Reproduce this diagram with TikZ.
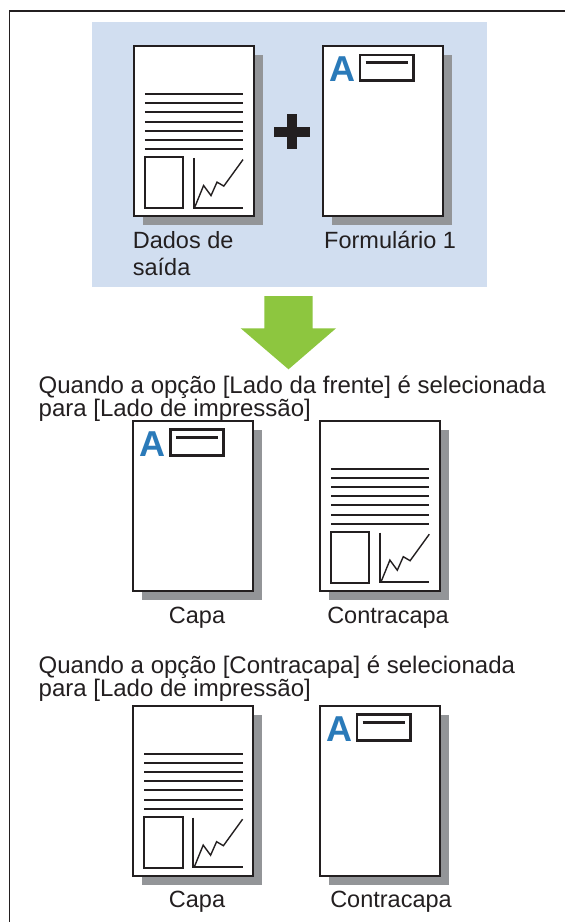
\documentclass[tikz,border=0pt]{standalone}
\usepackage{fontspec}
\setmainfont{Liberation Sans}
\definecolor{inkc}{HTML}{231F20}
\definecolor{shadowc}{HTML}{939598}
\definecolor{bluebg}{HTML}{D1DEF0}
\definecolor{letterc}{HTML}{2A7AB9}
\definecolor{arrowc}{HTML}{8DC63F}
\tikzset{
  pageshadow/.style={fill=shadowc, draw=none},
  pagebody/.style={fill=white, draw=inkc, line width=2.2pt},
  textline/.style={draw=inkc, line width=2pt},
  boxline/.style={draw=inkc, line width=2pt},
  chartline/.style={draw=inkc, line width=1.4pt, line join=miter},
  formbox/.style={draw=inkc, line width=2.8pt},
  bigletter/.style={text=letterc, font=\fontsize{36}{36}\selectfont\bfseries, inner sep=0pt, anchor=base west},
  lbl/.style={font=\fontsize{23.5}{23.5}\selectfont, inner sep=0pt, text=inkc},
  caption/.style={font=\fontsize{24}{24}\selectfont, inner sep=0pt, anchor=base west, text=inkc},
}
\newcommand\mypage[2]{%
  \fill[pageshadow] (#1+9,#2+9) rectangle (#1+129,#2+179);
  \draw[pagebody] (#1,#2) rectangle (#1+120,#2+170);}
\newcommand\datapage[2]{%
  \mypage{#1}{#2}
  \begin{scope}[shift={(#1,#2)}]
    \foreach \k in {0,...,6}{\draw[textline] (11.1,48.1+9.17*\k) -- (109.3,48.1+9.17*\k);}
    \draw[boxline] (11.1,110.9) rectangle (49.3,162.1);
    \draw[boxline] (59.8,111.9) -- (59.8,161.7) -- (109.3,161.7);
    \draw[chartline] (61.3,160.6) -- (69.9,139.5) -- (77.3,149.6) -- (83.3,136.1) -- (90.1,140.1) -- (109.3,113.6);
  \end{scope}}
\newcommand\formpage[3]{%
  \mypage{#1}{#2}
  \begin{scope}[shift={(#1,#2)}]
    \node[bigletter] (#3) at (6,35.5) {A};
    \draw[formbox] (37,9) rectangle (90.5,34.5);
    \draw[formbox] (42.6,16.7) -- (84.6,16.7);
  \end{scope}}
\begin{document}
\begin{tikzpicture}[x=1pt,y=-1pt]
\useasboundingbox (0,0) rectangle (565,922);
\fill[white] (0,0) rectangle (565,922);
% frame
\draw[inkc, line width=1.2pt] (9.5,922) -- (9.5,11) -- (565,11);
% blue panel
\fill[bluebg] (92,22) rectangle (487,287);
\datapage{133.7}{46}
\formpage{323}{46}{A1}
% plus sign
\fill[inkc] (274,127) rectangle (310,137);
\fill[inkc] (287,114) rectangle (297,149);
\node[lbl, anchor=base west] (dados) at (132.7,248.6) {Dados de};
\node[lbl, anchor=base west] (saida) at (132.7,275.5) {saída};
\node[lbl, anchor=base west] (form1) at (324,248.6) {Formulário 1};
% arrow
\fill[arrowc] (264.3,296) -- (312.7,296) -- (312.7,328.3) -- (336,328.3) -- (288.5,369.3) -- (240.7,328.3) -- (264.3,328.3) -- cycle;
% section 1
\node[caption] (c1a) at (38.5,393) {Quando a opção [Lado da frente] é selecionada};
\node[caption] (c1b) at (38.5,416.5) {para [Lado de impressão]};
\formpage{133.3}{420.6}{A2}
\datapage{320}{420.6}
\node[lbl, anchor=base] (capa1) at (197,623.6) {Capa};
\node[lbl, anchor=base] (contra1) at (388,623.6) {Contracapa};
% section 2
\node[caption] (c2a) at (38.5,673) {Quando a opção [Contracapa] é selecionada};
\node[caption] (c2b) at (38.5,696.5) {para [Lado de impressão]};
\datapage{133.3}{705.6}
\formpage{320}{705.6}{A3}
\node[lbl, anchor=base] (capa2) at (197,907.6) {Capa};
\node[lbl, anchor=base] (contra2) at (391,907.6) {Contracapa};
\end{tikzpicture}
\end{document}
